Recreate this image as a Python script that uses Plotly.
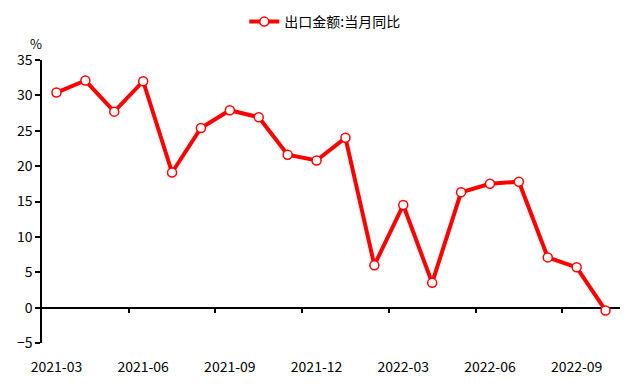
import plotly.graph_objects as go

months = ["2021-03", "2021-04", "2021-05", "2021-06", "2021-07", "2021-08", "2021-09",
          "2021-10", "2021-11", "2021-12", "2022-01", "2022-02", "2022-03", "2022-04",
          "2022-05", "2022-06", "2022-07", "2022-08", "2022-09", "2022-10"]
export_yoy = [30.4, 32.1, 27.7, 32.0, 19.1, 25.4, 27.9, 26.9, 21.6, 20.8,
              24.0, 6.0, 14.5, 3.5, 16.3, 17.5, 17.8, 7.1, 5.7, -0.4]
series_name = "出口金额:当月同比"
y_ticks = [-5, 0, 5, 10, 15, 20, 25, 30, 35]

x_idx = list(range(len(months)))
label_idx = [i for i in x_idx if i % 3 == 0]
label_text = [months[i] for i in label_idx]
boundary_ticks = [i - 0.5 for i in label_idx if i > 0]

font_family = "Noto Sans CJK SC, Noto Sans, sans-serif"
x_range = [-0.5, len(months) - 0.5]
y_range = [-5, 35]

fig = go.Figure()
# invisible helper trace so the zero-level axis (x2) is rendered
fig.add_trace(go.Scatter(
    x=x_idx, y=[None] * len(x_idx), mode="lines", showlegend=False,
    hoverinfo="skip", xaxis="x2", yaxis="y",
))
fig.add_trace(go.Scatter(
    x=x_idx, y=export_yoy, name=series_name, mode="lines+markers",
    line=dict(color="#FF0000", width=4),
    marker=dict(symbol="circle", size=9, color="#FFFFFF",
                line=dict(color="#FF0000", width=1.5)),
    xaxis="x", yaxis="y",
))

fig.update_layout(
    template="none",
    width=640, height=384,
    margin=dict(l=34, r=28, t=52, b=49, autoexpand=False),
    paper_bgcolor="white", plot_bgcolor="white",
    font=dict(family=font_family, size=14, color="#000000"),
    showlegend=True,
    legend=dict(orientation="h", xref="container", yref="container",
                x=0.495, xanchor="center", y=0.9635, yanchor="middle",
                font=dict(size=14), bgcolor="rgba(0,0,0,0)"),
    xaxis=dict(
        range=x_range, tickmode="array", tickvals=label_idx, ticktext=label_text,
        ticks="", showline=False, showgrid=False, zeroline=False, automargin=False,
        ticklabelstandoff=14, tickfont=dict(size=14),
    ),
    xaxis2=dict(
        overlaying="x", anchor="free", position=(0 - y_range[0]) / (y_range[1] - y_range[0]),
        range=x_range, tickmode="array", tickvals=boundary_ticks, showticklabels=False,
        ticks="outside", ticklen=5, tickwidth=1.5, tickcolor="#000000",
        showline=True, linecolor="#000000", linewidth=1.5, automargin=False,
        showgrid=False, zeroline=False, layer="below traces",
    ),
    yaxis=dict(
        range=y_range, tickmode="array", tickvals=y_ticks,
        ticks="outside", ticklen=5, tickwidth=1.5, tickcolor="#000000",
        showline=True, linecolor="#000000", linewidth=1.5, automargin=False,
        showgrid=False, zeroline=False, tickfont=dict(size=14),
    ),
    annotations=[dict(text="%", x=-0.01, y=1.06, xref="paper", yref="paper",
                      showarrow=False, font=dict(size=13), xanchor="center", yanchor="middle")],
)

fig.write_html("out.html")
